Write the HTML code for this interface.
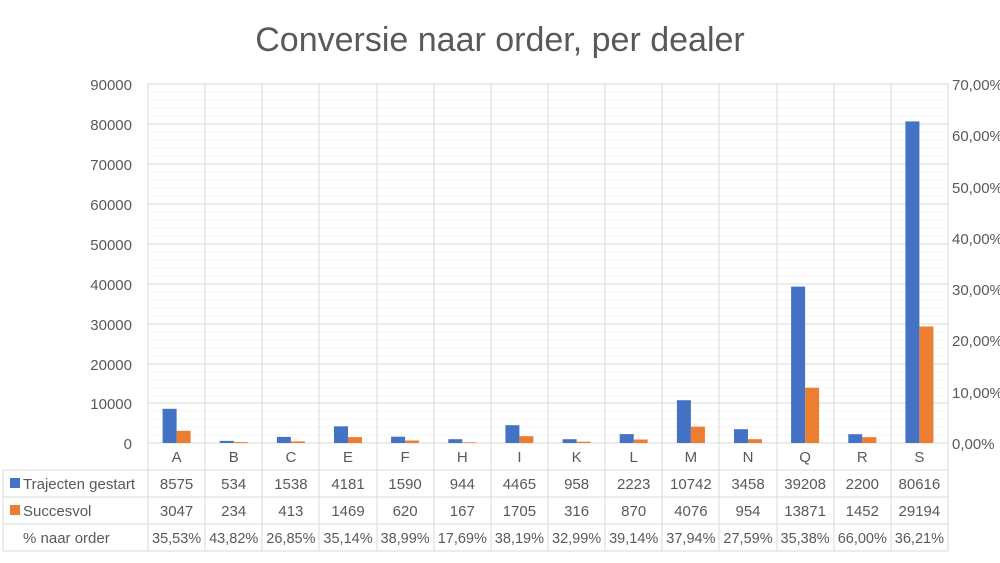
<!DOCTYPE html><html><head><style>body{margin:0;background:#fff}svg{display:block}</style></head><body>
<svg width="1000" height="563" xmlns="http://www.w3.org/2000/svg" font-family="Liberation Sans, sans-serif" fill="#595959">
<text x="500" y="51" font-size="34" text-anchor="middle">Conversie naar order, per dealer</text>
<g stroke="#f4f4f4" stroke-width="1">
<path d="M148 92H948M148 100H948M148 108H948M148 116H948M148 132H948M148 140H948M148 148H948M148 156H948M148 172H948M148 180H948M148 188H948M148 196H948M148 212H948M148 220H948M148 228H948M148 236H948M148 252H948M148 260H948M148 268H948M148 276H948M148 292H948M148 300H948M148 308H948M148 316H948M148 332H948M148 340H948M148 348H948M148 356H948M148 372H948M148 380H948M148 388H948M148 396H948M148 411H948M148 419H948M148 427H948M148 435H948"/>
</g>
<g stroke="#d9d9d9" stroke-width="1">
<path d="M148 84H948M148 124H948M148 164H948M148 204H948M148 244H948M148 284H948M148 324H948M148 364H948M148 403H948M148 443H948"/>
<path d="M148 84V551M205 84V551M262 84V551M319 84V551M377 84V551M434 84V551M491 84V551M548 84V551M605 84V551M662 84V551M719 84V551M777 84V551M834 84V551M891 84V551M948 84V551"/>
<path d="M3 470H948M3 497H948M3 524H948M3 551H948M3 470V551"/>
</g>
<g font-size="15" text-anchor="end">
<text x="132" y="90">90000</text><text x="132" y="130">80000</text><text x="132" y="170">70000</text><text x="132" y="210">60000</text><text x="132" y="250">50000</text><text x="132" y="290">40000</text><text x="132" y="330">30000</text><text x="132" y="370">20000</text><text x="132" y="409">10000</text><text x="132" y="449">0</text>
</g>
<g font-size="15">
<text x="952" y="90">70,00%</text><text x="952" y="141">60,00%</text><text x="952" y="193">50,00%</text><text x="952" y="244">40,00%</text><text x="952" y="295">30,00%</text><text x="952" y="346">20,00%</text><text x="952" y="398">10,00%</text><text x="952" y="449">0,00%</text>
</g>
<g fill="#4472c4">
<rect x="162.6" y="408.8" width="14" height="34.2"/><rect x="219.7" y="440.9" width="14" height="2.1"/><rect x="276.9" y="436.9" width="14" height="6.1"/><rect x="334" y="426.3" width="14" height="16.7"/><rect x="391.1" y="436.7" width="14" height="6.3"/><rect x="448.3" y="439.2" width="14" height="3.8"/><rect x="505.4" y="425.2" width="14" height="17.8"/><rect x="562.6" y="439.2" width="14" height="3.8"/><rect x="619.7" y="434.1" width="14" height="8.9"/><rect x="676.9" y="400.2" width="14" height="42.8"/><rect x="734" y="429.2" width="14" height="13.8"/><rect x="791.1" y="286.6" width="14" height="156.4"/><rect x="848.3" y="434.2" width="14" height="8.8"/><rect x="905.4" y="121.4" width="14" height="321.6"/>
</g>
<g fill="#ed7d31">
<rect x="176.6" y="430.8" width="14" height="12.2"/><rect x="233.7" y="442.1" width="14" height="0.9"/><rect x="290.9" y="441.4" width="14" height="1.6"/><rect x="348" y="437.1" width="14" height="5.9"/><rect x="405.1" y="440.5" width="14" height="2.5"/><rect x="462.3" y="442.3" width="14" height="0.7"/><rect x="519.4" y="436.2" width="14" height="6.8"/><rect x="576.6" y="441.7" width="14" height="1.3"/><rect x="633.7" y="439.5" width="14" height="3.5"/><rect x="690.9" y="426.7" width="14" height="16.3"/><rect x="748" y="439.2" width="14" height="3.8"/><rect x="805.1" y="387.7" width="14" height="55.3"/><rect x="862.3" y="437.2" width="14" height="5.8"/><rect x="919.4" y="326.5" width="14" height="116.5"/>
</g>
<rect x="10" y="478" width="10" height="10" fill="#4472c4"/><rect x="10" y="505" width="10" height="10" fill="#ed7d31"/>
<g font-size="15">
<text x="23" y="489">Trajecten gestart</text><text x="23" y="516">Succesvol</text><text x="23" y="543">% naar order</text>
</g>
<g font-size="15" text-anchor="middle">
<g transform="translate(0,462)"><text x="176.6">A</text><text x="233.7">B</text><text x="290.9">C</text><text x="348">E</text><text x="405.1">F</text><text x="462.3">H</text><text x="519.4">I</text><text x="576.6">K</text><text x="633.7">L</text><text x="690.9">M</text><text x="748">N</text><text x="805.1">Q</text><text x="862.3">R</text><text x="919.4">S</text></g>
<g transform="translate(0,489)"><text x="176.6">8575</text><text x="233.7">534</text><text x="290.9">1538</text><text x="348">4181</text><text x="405.1">1590</text><text x="462.3">944</text><text x="519.4">4465</text><text x="576.6">958</text><text x="633.7">2223</text><text x="690.9">10742</text><text x="748">3458</text><text x="805.1">39208</text><text x="862.3">2200</text><text x="919.4">80616</text></g>
<g transform="translate(0,516)"><text x="176.6">3047</text><text x="233.7">234</text><text x="290.9">413</text><text x="348">1469</text><text x="405.1">620</text><text x="462.3">167</text><text x="519.4">1705</text><text x="576.6">316</text><text x="633.7">870</text><text x="690.9">4076</text><text x="748">954</text><text x="805.1">13871</text><text x="862.3">1452</text><text x="919.4">29194</text></g>
<g transform="translate(0,543)" font-size="14.5"><text x="176.6">35,53%</text><text x="233.7">43,82%</text><text x="290.9">26,85%</text><text x="348">35,14%</text><text x="405.1">38,99%</text><text x="462.3">17,69%</text><text x="519.4">38,19%</text><text x="576.6">32,99%</text><text x="633.7">39,14%</text><text x="690.9">37,94%</text><text x="748">27,59%</text><text x="805.1">35,38%</text><text x="862.3">66,00%</text><text x="919.4">36,21%</text></g>
</g>
</svg>
</body></html>
